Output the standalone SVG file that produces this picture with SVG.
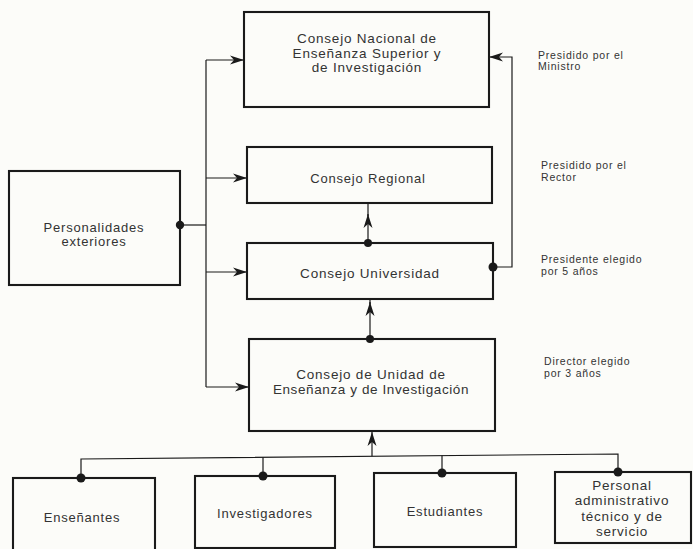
<svg xmlns="http://www.w3.org/2000/svg" width="693" height="549" viewBox="0 0 693 549">
<defs>
<marker id="arr" markerUnits="userSpaceOnUse" markerWidth="16" markerHeight="10" viewBox="-14 -5 16 10" refX="0" refY="0" orient="auto">
<path d="M-14,-4.5 L0,0 L-14,4.5 L-10,0 Z" fill="#1a1a1a"/>
</marker>
</defs>
<style>
.box{fill:none;stroke:#1a1a1a;stroke-width:2.1}
.ln{fill:none;stroke:#1a1a1a;stroke-width:1.2}
.dot{fill:#1a1a1a}
.t{font-family:"Liberation Sans",Arial,sans-serif;font-size:13.5px;letter-spacing:0.8px;fill:#333333;text-anchor:middle}
.s{font-size:13px}
.a{font-family:"Liberation Sans",Arial,sans-serif;font-size:10.5px;letter-spacing:0.8px;fill:#333333}
</style>
<rect width="693" height="549" fill="#fcfcf9"/>
<g id="connectors">
<path class="ln" d="M206,60 V387"/>
<path class="ln" d="M180,225 H206"/>
<path class="ln" d="M206,60 H244" marker-end="url(#arr)"/>
<path class="ln" d="M206,178 H247" marker-end="url(#arr)"/>
<path class="ln" d="M206,272 H247" marker-end="url(#arr)"/>
<path class="ln" d="M206,387 H249" marker-end="url(#arr)"/>
<path class="ln" d="M493,267 H512 V57 H489" marker-end="url(#arr)"/>
<path class="ln" d="M368,243 V214" marker-end="url(#arr)"/>
<path class="ln" d="M368,216 V203"/>
<path class="ln" d="M370,339 V302" marker-end="url(#arr)"/>
<path class="ln" d="M370,304 V299"/>
<path class="ln" d="M372,456.3 V432" marker-end="url(#arr)"/>
<path class="ln" d="M81,478 V459 L618,454 V472"/>
<path class="ln" d="M263,457.3 V476"/>
<path class="ln" d="M442,455.6 V473"/>
<circle class="dot" cx="180" cy="225" r="4.2"/>
<circle class="dot" cx="493" cy="267" r="4.5"/>
<circle class="dot" cx="368" cy="243" r="4"/>
<circle class="dot" cx="370" cy="339" r="4"/>
<circle class="dot" cx="81" cy="478" r="4.5"/>
<circle class="dot" cx="263" cy="476" r="4.5"/>
<circle class="dot" cx="442" cy="473" r="4.5"/>
<circle class="dot" cx="618" cy="472" r="4.5"/>
</g>
<g id="nacional">
<rect class="box" x="244" y="12" width="245" height="95"/>
<text class="t" x="367" y="43">Consejo Nacional de</text>
<text class="t" x="367" y="58">Enseñanza Superior y</text>
<text class="t" x="367" y="72">de Investigación</text>
</g>
<g id="regional">
<rect class="box" x="247" y="147" width="245" height="56"/>
<text class="t s" x="368" y="183">Consejo Regional</text>
</g>
<g id="universidad">
<rect class="box" x="247" y="243" width="246" height="56"/>
<text class="t" x="370" y="278">Consejo Universidad</text>
</g>
<g id="unidad">
<rect class="box" x="249" y="339" width="246" height="92"/>
<text class="t" x="371" y="379">Consejo de Unidad de</text>
<text class="t" x="371" y="394" style="letter-spacing:0.6px">Enseñanza y de Investigación</text>
</g>
<g id="personalidades">
<rect class="box" x="9" y="171" width="171" height="114"/>
<text class="t s" x="94" y="232">Personalidades</text>
<text class="t s" x="94" y="246">exteriores</text>
</g>
<g id="ensenantes">
<rect class="box" x="13" y="478" width="142" height="74"/>
<text class="t s" x="82" y="522">Enseñantes</text>
</g>
<g id="investigadores">
<rect class="box" x="195" y="476" width="140" height="72"/>
<text class="t s" x="265" y="518">Investigadores</text>
</g>
<g id="estudiantes">
<rect class="box" x="374" y="473" width="142" height="74"/>
<text class="t s" x="445" y="516">Estudiantes</text>
</g>
<g id="personal">
<rect class="box" x="555" y="472" width="136" height="71"/>
<text class="t" x="622" y="490">Personal</text>
<text class="t" x="622" y="505">administrativo</text>
<text class="t" x="622" y="521">técnico y de</text>
<text class="t" x="622" y="536">servicio</text>
</g>
<g id="annotations">
<text class="a" x="538" y="59">Presidido por el</text>
<text class="a" x="538" y="70">Ministro</text>
<text class="a" x="541" y="169">Presidido por el</text>
<text class="a" x="541" y="181">Rector</text>
<text class="a" x="541" y="263">Presidente elegido</text>
<text class="a" x="541" y="275">por 5 años</text>
<text class="a" x="544" y="365">Director elegido</text>
<text class="a" x="544" y="377">por 3 años</text>
</g>
</svg>
